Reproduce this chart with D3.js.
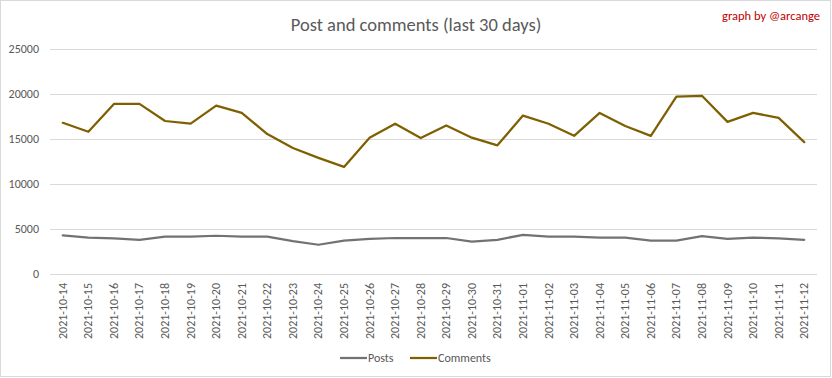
<!DOCTYPE html>
<html>
<head>
<meta charset="utf-8">
<script src="https://cdn.jsdelivr.net/npm/d3@7"></script>
<style>
  html, body { margin: 0; padding: 0; background: #fff; }
  #chart { width: 832px; height: 378px; }
  text { font-family: Carlito, "Liberation Sans Narrow", "Liberation Sans", sans-serif; }
</style>
</head>
<body>
<div id="chart"></div>
<script>
const dates = [
  '2021-10-14', '2021-10-15', '2021-10-16', '2021-10-17', '2021-10-18', '2021-10-19',
  '2021-10-20', '2021-10-21', '2021-10-22', '2021-10-23', '2021-10-24', '2021-10-25',
  '2021-10-26', '2021-10-27', '2021-10-28', '2021-10-29', '2021-10-30', '2021-10-31',
  '2021-11-01', '2021-11-02', '2021-11-03', '2021-11-04', '2021-11-05', '2021-11-06',
  '2021-11-07', '2021-11-08', '2021-11-09', '2021-11-10', '2021-11-11', '2021-11-12'
];
const posts = [
  4300, 4050, 3950, 3800, 4150, 4150, 4250, 4150, 4150, 3650, 3250, 3700,
  3900, 4000, 4000, 4000, 3600, 3800, 4350, 4150, 4150, 4050, 4050, 3700,
  3700, 4200, 3900, 4050, 3950, 3800
];
const comments = [
  16800, 15800, 18900, 18900, 17000, 16700, 18700, 17900, 15550, 14000, 12900, 11900,
  15150, 16700, 15100, 16500, 15150, 14300, 17600, 16700, 15350, 17900, 16450, 15350,
  19700, 19800, 16900, 17900, 17350, 14650
];
const yTicks = [0, 5000, 10000, 15000, 20000, 25000];
const seriesNames = ['Posts', 'Comments'];
const seriesColors = ['#767171', '#7f6000'];

const W = 832, H = 378;
const margin = { top: 49, right: 15, bottom: 104, left: 50 };
const width = W - margin.left - margin.right;
const height = H - margin.top - margin.bottom;

const svg = d3.select('#chart').append('svg')
  .attr('width', W)
  .attr('height', H);

// chart border
svg.append('rect')
  .attr('x', 0.5).attr('y', 0.5)
  .attr('width', W - 2).attr('height', H - 2)
  .attr('fill', '#fff')
  .attr('stroke', '#d9d9d9');

svg.append('text')
  .attr('x', W / 2)
  .attr('y', 31)
  .attr('text-anchor', 'middle')
  .attr('font-size', '18.5px')
  .attr('fill', '#595959')
  .text('Post and comments (last 30 days)');

svg.append('text')
  .attr('x', 820)
  .attr('y', 20)
  .attr('text-anchor', 'end')
  .attr('font-size', '12.5px')
  .attr('fill', '#c00000')
  .text('graph by @arcange');

const g = svg.append('g')
  .attr('transform', `translate(${margin.left},${margin.top})`);

const x = d3.scaleBand()
  .domain(dates)
  .range([0, width]);

const y = d3.scaleLinear()
  .domain([0, 25000])
  .range([height, 0]);

// gridlines
g.append('g')
  .selectAll('line')
  .data(yTicks)
  .enter()
  .append('line')
  .attr('x1', 0)
  .attr('x2', width)
  .attr('y1', d => Math.round(y(d)) + 0.5)
  .attr('y2', d => Math.round(y(d)) + 0.5)
  .attr('stroke', '#d9d9d9')
  .attr('stroke-width', 1);

// y labels
const yAxis = g.append('g')
  .call(d3.axisLeft(y).tickValues(yTicks).tickSize(0).tickPadding(11).tickFormat(d3.format('d')));
yAxis.select('.domain').remove();
yAxis.selectAll('text')
  .attr('font-size', '12px')
  .attr('fill', '#595959')
  .style('font-family', 'Carlito, "Liberation Sans Narrow", "Liberation Sans", sans-serif');

// x labels
const xAxis = g.append('g')
  .attr('transform', `translate(0,${height})`)
  .call(d3.axisBottom(x).tickSize(0).tickPadding(0));
xAxis.select('.domain').remove();
xAxis.selectAll('text')
  .attr('font-size', '12px')
  .attr('fill', '#595959')
  .style('font-family', 'Carlito, "Liberation Sans Narrow", "Liberation Sans", sans-serif')
  .attr('text-anchor', 'end')
  .attr('dy', null)
  .attr('transform', 'translate(4,9) rotate(-90)');

const line = d3.line()
  .x((d, i) => x(dates[i]) + x.bandwidth() / 2)
  .y(d => y(d));

[posts, comments].forEach((values, k) => {
  g.append('path')
    .datum(values)
    .attr('fill', 'none')
    .attr('stroke', seriesColors[k])
    .attr('stroke-width', 2.25)
    .attr('stroke-linejoin', 'round')
    .attr('stroke-linecap', 'round')
    .attr('d', line);
});

// legend
const legendX = [340, 410];
const legend = svg.append('g')
  .selectAll('g')
  .data(seriesNames)
  .enter()
  .append('g')
  .attr('transform', (d, i) => `translate(${legendX[i]},358)`);
legend.append('line')
  .attr('x1', 0).attr('x2', 27)
  .attr('y1', 0).attr('y2', 0)
  .attr('stroke', (d, i) => seriesColors[i])
  .attr('stroke-width', 2.25);
legend.append('text')
  .attr('x', 28)
  .attr('y', 4)
  .attr('font-size', '12px')
  .attr('fill', '#595959')
  .text(d => d);
</script>
</body>
</html>
